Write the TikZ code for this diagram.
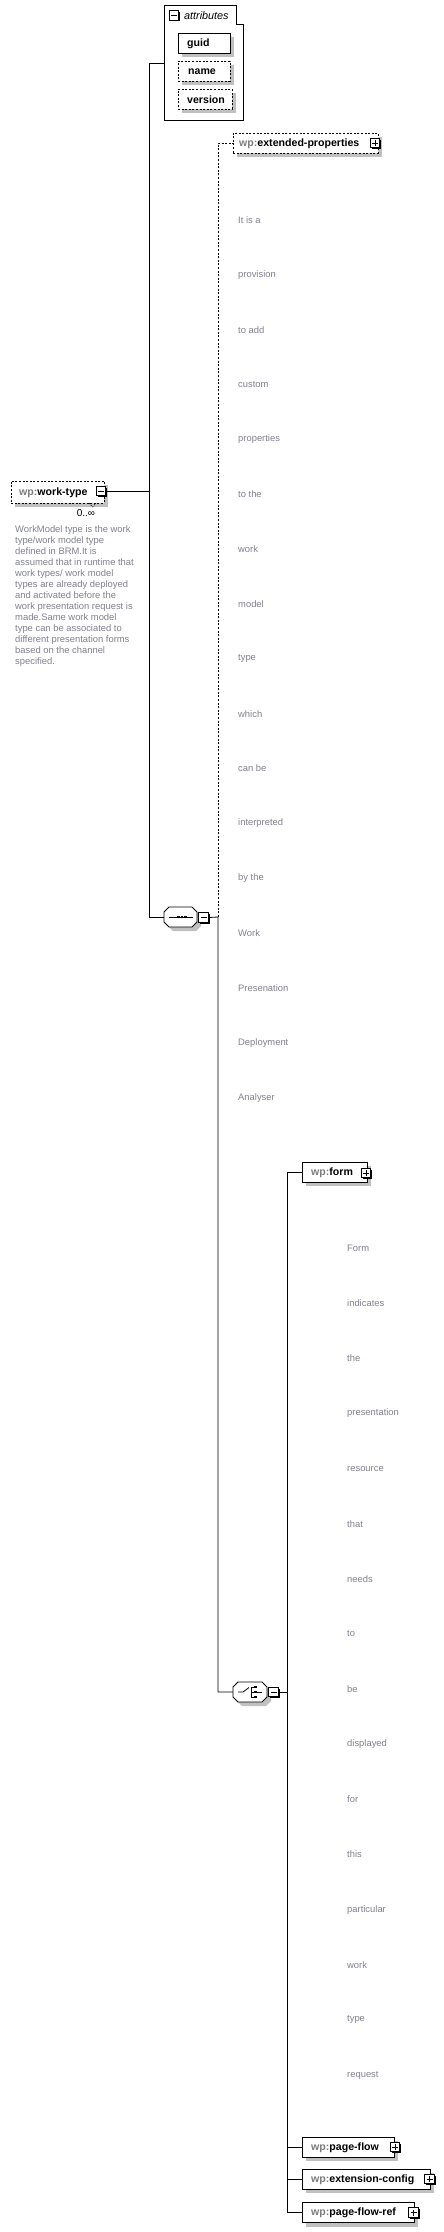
\documentclass[tikz,border=0pt]{standalone}
\usepackage{fontspec}
\setmainfont{Liberation Sans}
\usetikzlibrary{shadows}
\definecolor{shadowgray}{RGB}{192,192,192}
\definecolor{pfx}{RGB}{125,125,125}
\definecolor{desc}{RGB}{128,128,142}
\newcommand\qn[1]{\textbf{{\color{pfx}wp:}#1}}
\newcommand\pmbox[4]{%
  \fill (#2-3.5,#3-3.5) rectangle (#2+6,#3+6);
  \node[draw, fill=white, line width=0.7pt, minimum size=9.5pt, inner sep=0pt] (#1) at (#2,#3) {};
  \draw[line width=0.7pt] (#2-3,#3) -- (#2+3,#3);
  \ifnum#4=1 \draw[line width=0.7pt] (#2,#3-3) -- (#2,#3+3);\fi
}
\begin{document}
\begin{tikzpicture}[x=1pt,y=-1pt,
  shad/.style={drop shadow={shadow xshift=4pt,shadow yshift=-4pt,fill=shadowgray,opacity=1,draw=none}},
  elbox/.style={draw, line width=0.8pt, fill=white, inner sep=0pt, minimum height=20pt, shad},
  optbox/.style={elbox, dash pattern=on 2pt off 1.6pt},
  lbl/.style={font=\fontsize{10.6}{12}\selectfont, inner sep=0pt, anchor=west},
  dw/.style={font=\fontsize{9.4}{11}\selectfont, text=desc, inner sep=0pt, anchor=west},
  conn/.style={line width=0.8pt},
  oconn/.style={conn, dash pattern=on 2pt off 1.6pt}]
\useasboundingbox (0,0) rectangle (444,2232);

% attributes group
\draw[line width=0.8pt] (164,5) -- (236,5) -- (236,24) -- (243,24) -- (243,120) -- (164,120) -- cycle;
\pmbox{attrminus}{174}{15.5}{0}
\node[lbl, font=\fontsize{10.8}{12}\selectfont\itshape] (attrlbl) at (184,16) {attributes};
\coordinate (attrw) at (164,63);
\node[elbox, minimum width=52pt] (guid) at (204,43) {};
\node[lbl] (guidl) at (187,43.5) {\textbf{guid}};
\node[optbox, minimum width=52pt] (name) at (204,71) {};
\node[lbl] (namel) at (188,71.5) {\textbf{name}};
\node[optbox, minimum width=54pt] (version) at (205,99) {};
\node[lbl] (versionl) at (187,99.5) {\textbf{version}};

% work-type
\node[optbox, minimum width=93pt, minimum height=22pt] (wt) at (57.5,492) {};
\node[lbl] (wtl) at (19,492.5) {\qn{work-type}};
\pmbox{wtminus}{101}{491}{0}
\draw[line width=0.5pt, dash pattern=on 1.5pt off 1pt] (89,503) -- (92.5,507) -- (96,503);
\node[font=\fontsize{10}{11}\selectfont, inner sep=0pt] (wtocc) at (86,513) {0..∞};
\node[font=\fontsize{9.4}{11}\selectfont, text=desc, align=left, inner sep=0pt, anchor=north west] (wtdesc) at (15,525.5) {WorkModel type is the work\\type/work model type\\defined in BRM.It is\\assumed that in runtime that\\work types/ work model\\types are already deployed\\and activated before the\\work presentation request is\\made.Same work model\\type can be associated to\\different presentation forms\\based on the channel\\specified.};

% sequence compositor
\draw[line width=0.8pt, fill=white, shad] (169,907) -- (192,907) -- (197,912) -- (197,922) -- (192,927) -- (169,927) -- (164,922) -- (164,912) -- cycle;
\node[inner sep=0pt, minimum width=33pt, minimum height=20pt] (seq) at (180.5,917) {};
\draw[line width=0.8pt] (169,917) -- (193,917);
\fill (177,915.7) rectangle (179.6,918.3);
\fill (180.7,915.7) rectangle (183.3,918.3);
\fill (184.4,915.7) rectangle (187,918.3);
\pmbox{seqminus}{203.5}{917.5}{0}

% choice compositor
\draw[line width=0.8pt, fill=white, shad] (238,1682) -- (262,1682) -- (267,1687) -- (267,1697) -- (262,1702) -- (238,1702) -- (233,1697) -- (233,1687) -- cycle;
\node[inner sep=0pt, minimum width=34pt, minimum height=20pt] (choice) at (250,1692) {};
\draw[line width=0.8pt] (238,1692) -- (243,1692) -- (249,1687.5);
\draw[line width=0.8pt] (251,1687) -- (251,1697);
\draw[line width=0.8pt] (251,1687) -- (254,1687) (251,1692) -- (254,1692) (251,1697) -- (254,1697);
\fill (254,1685.7) rectangle (256.6,1688.3);
\fill (254,1690.7) rectangle (256.6,1693.3);
\fill (254,1695.7) rectangle (256.6,1698.3);
\draw[line width=0.8pt] (256.6,1692) -- (262,1692);
\pmbox{chminus}{273.5}{1692}{0}

% extended-properties
\node[optbox, minimum width=145pt] (ext) at (305.5,143) {};
\node[lbl] (extl) at (239,143.5) {\qn{extended-properties}};
\pmbox{extplus}{375}{143}{1}

% form and others
\node[elbox, minimum width=65pt] (form) at (334.5,1172) {};
\node[lbl] (forml) at (311,1172.5) {\qn{form}};
\pmbox{formplus}{366}{1173}{1}

\node[elbox, minimum width=92pt] (pf) at (348,2147) {};
\node[lbl] (pfl) at (311,2147.5) {\qn{page-flow}};
\pmbox{pfplus}{395}{2147}{1}

\node[elbox, minimum width=128pt] (ec) at (366,2179) {};
\node[lbl] (ecl) at (311,2179.5) {\qn{extension-config}};
\pmbox{ecplus}{429.5}{2179}{1}

\node[elbox, minimum width=112pt] (pfr) at (358,2212.5) {};
\node[lbl] (pfrl) at (311,2213) {\qn{page-flow-ref}};
\pmbox{pfrplus}{413.5}{2212.5}{1}

% connectors
\coordinate (spine) at (149,63);
\coordinate (seqj) at (218,917);
\coordinate (chj) at (287,1692);
\draw[conn] (attrw) -- (spine) |- (seq.west);
\draw[conn] (wtminus.east) -- (wtminus.east -| spine);
\draw[conn] (seqminus.east) -- (seqj) |- (choice.west);
\draw[oconn] (seqj) |- (ext.west);
\draw[conn] (chminus.east) -- (chj);
\draw[conn] (form.west) -| (pfr.west -| chj) -- (pfr.west);
\draw[conn] (pf.west) -- (pf.west -| chj);
\draw[conn] (ec.west) -- (ec.west -| chj);

% descriptions
\foreach \w [count=\i from 0] in {It is a, provision, to add, custom, properties, to the, work, model, type, which, can be, interpreted, by the, Work, Presenation, Deployment, Analyser}
  \node[dw] (ed\i) at (238,220+\i*54.85) {\w};
\foreach \w [count=\i from 0] in {Form, indicates, the, presentation, resource, that, needs, to, be, displayed, for, this, particular, work, type, request}
  \node[dw] (fd\i) at (347,1248+\i*55.13) {\w};
\end{tikzpicture}
\end{document}
